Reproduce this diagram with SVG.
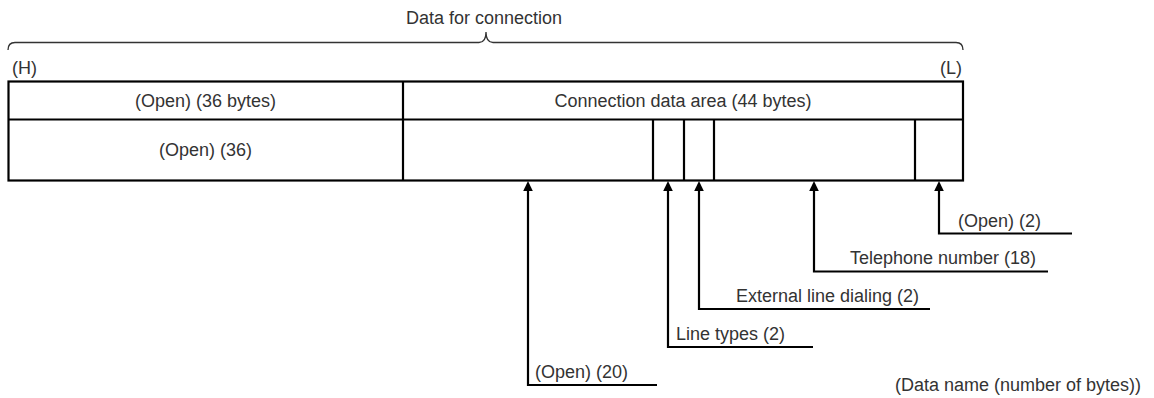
<svg xmlns="http://www.w3.org/2000/svg" width="1154" height="398" viewBox="0 0 1154 398">
<style>
text{font-family:"Liberation Sans",Arial,sans-serif;font-size:18px;fill:#333}
.mid{text-anchor:middle}
.end{text-anchor:end}
.tbl{fill:none;stroke:#000;stroke-width:2.2}
.conn{fill:none;stroke:#000;stroke-width:2.2}
.brace{fill:none;stroke:#333;stroke-width:1.3}
</style>
<defs>
<path id="ah" d="M0,0 L-4.8,10 L4.8,10 Z" fill="#000"/>
</defs>
<g id="brace">
<path class="brace" d="M8,50 Q8,42.5 15,42.5 L479,42.5 Q486,42.5 486,32 Q486,42.5 493,42.5 L956,42.5 Q963,42.5 963,50"/>
<text class="mid" x="484" y="24">Data for connection</text>
<text x="12" y="74">(H)</text>
<text class="end" x="962" y="74">(L)</text>
</g>
<g id="table">
<rect class="tbl" x="8.5" y="81.5" width="954.5" height="99"/>
<line class="tbl" x1="8.5" y1="119.5" x2="963" y2="119.5"/>
<line class="tbl" x1="403" y1="81.5" x2="403" y2="180.5"/>
<line class="tbl" x1="653" y1="119.5" x2="653" y2="180.5"/>
<line class="tbl" x1="684" y1="119.5" x2="684" y2="180.5"/>
<line class="tbl" x1="714" y1="119.5" x2="714" y2="180.5"/>
<line class="tbl" x1="915" y1="119.5" x2="915" y2="180.5"/>
<text class="mid" x="205.5" y="107">(Open) (36 bytes)</text>
<text class="mid" x="683" y="107">Connection data area (44 bytes)</text>
<text class="mid" x="205.5" y="156">(Open) (36)</text>
</g>
<g id="connectors">
<path class="conn" d="M939,188 V233.5 H1072"/>
<use href="#ah" x="939" y="181"/>
<path class="conn" d="M814,188 V271.5 H1048"/>
<use href="#ah" x="814" y="181"/>
<path class="conn" d="M699,188 V309 H930"/>
<use href="#ah" x="699" y="181"/>
<path class="conn" d="M668,188 V347 H813"/>
<use href="#ah" x="668" y="181"/>
<path class="conn" d="M528,188 V385 H657"/>
<use href="#ah" x="528" y="181"/>
</g>
<g id="labels">
<text x="958" y="226.5">(Open) (2)</text>
<text x="850" y="264">Telephone number (18)</text>
<text x="736" y="301.5">External line dialing (2)</text>
<text x="676" y="339.5">Line types (2)</text>
<text x="535" y="378">(Open) (20)</text>
<text x="895" y="391">(Data name (number of bytes))</text>
</g>
</svg>
